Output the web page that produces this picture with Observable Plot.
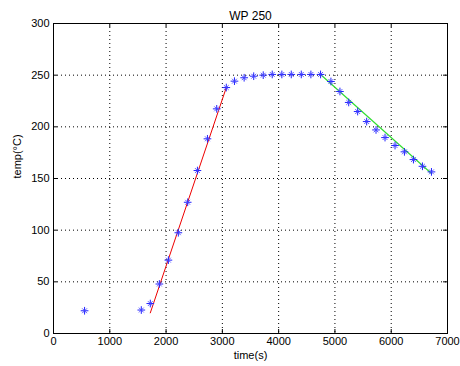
<!DOCTYPE html>
<html>
<head>
<meta charset="utf-8">
<script src="https://cdn.jsdelivr.net/npm/d3@7"></script>
<script src="https://cdn.jsdelivr.net/npm/@observablehq/plot@0.6"></script>
<style>
  html, body { margin: 0; padding: 0; background: #fff; }
  svg { display: block; }
</style>
</head>
<body>
<div id="chart"></div>
<script>
const titleText = "WP 250";
const xLabel = "time(s)";
const yLabel = "temp(°C)";

// measured points (time s, temperature °C)
const timeS = [552, 1560, 1720, 1881, 2041, 2218, 2384, 2557, 2735, 2900, 3070, 3215, 3387, 3557, 3726, 3886, 4057, 4224, 4402, 4573, 4745, 4929, 5089, 5245, 5404, 5564, 5730, 5890, 6068, 6235, 6395, 6555, 6715];
const tempC = [22, 22.7, 29, 47.9, 71, 97.5, 127, 157.7, 188.4, 217.4, 238, 244.2, 247.5, 249, 250, 250.7, 250.7, 250.7, 250.7, 250.7, 250.7, 243.9, 234.2, 223.6, 214.8, 205.1, 197, 189.6, 181.9, 175.8, 168.3, 161.8, 156.4];

// fitted heating line (red) and cooling line (green)
const heatT = [1720, 3070];
const heatY = [20, 238];
const coolT = [4745, 6715];
const coolY = [250.7, 154.8];

const xTicks = [0, 1000, 2000, 3000, 4000, 5000, 6000, 7000];
const yTicks = [0, 50, 100, 150, 200, 250, 300];
const xGrid = [1000, 2000, 3000, 4000, 5000, 6000];
const yGrid = [50, 100, 150, 200, 250];

const points = timeS.map((t, i) => ({t, v: tempC[i]}));
const heat = heatT.map((t, i) => ({t, v: heatY[i]}));
const cool = coolT.map((t, i) => ({t, v: coolY[i]}));

const W = 460, H = 366;
const mL = 53, mR = 13, mT = 23, mB = 33;
const fw = W - mL - mR, fh = H - mT - mB;
const tick = 4;

const chart = Plot.plot({
  width: W,
  height: H,
  marginLeft: mL,
  marginRight: mR,
  marginTop: mT,
  marginBottom: mB,
  style: {fontFamily: "Arial, 'Liberation Sans', sans-serif", fontSize: "11px", background: "#fff", color: "#000"},
  x: {domain: [0, 7000]},
  y: {domain: [0, 300]},
  marks: [
    Plot.gridX(xGrid, {stroke: "#000", strokeOpacity: 1, strokeDasharray: "1,3"}),
    Plot.gridY(yGrid, {stroke: "#000", strokeOpacity: 1, strokeDasharray: "1,3"}),
    // inward ticks on all four sides
    Plot.tickX(xTicks, {x: d => d, insetTop: fh - tick, stroke: "#000"}),
    Plot.tickX(xTicks, {x: d => d, insetBottom: fh - tick, stroke: "#000"}),
    Plot.tickY(yTicks, {y: d => d, insetRight: fw - tick, stroke: "#000"}),
    Plot.tickY(yTicks, {y: d => d, insetLeft: fw - tick, stroke: "#000"}),
    Plot.frame({stroke: "#000"}),
    Plot.axisX(xTicks, {tickSize: 0, tickPadding: 4, fontSize: 11, label: null, tickFormat: d3.format("d")}),
    Plot.axisY(yTicks, {tickSize: 0, tickPadding: 4, fontSize: 11, label: null, tickFormat: d3.format("d")}),
    Plot.line(heat, {x: "t", y: "v", stroke: "#ee0000", strokeWidth: 1}),
    Plot.line(cool, {x: "t", y: "v", stroke: "#33dd33", strokeWidth: 1.2}),
    Plot.dot(points, {x: "t", y: "v", symbol: "plus", r: 2.6, stroke: "#2222ff", strokeWidth: 1}),
    Plot.dot(points, {x: "t", y: "v", symbol: "times", r: 2.3, stroke: "#4444ff", strokeWidth: 0.9}),
    Plot.text([titleText], {frameAnchor: "top", dy: -12, text: d => d, fontSize: 12, fill: "#000"}),
    Plot.text([xLabel], {frameAnchor: "bottom", dy: 25, text: d => d, fontSize: 11, fill: "#000"}),
    Plot.text([yLabel], {frameAnchor: "left", dx: -36, rotate: -90, text: d => d, fontSize: 11, fill: "#000"})
  ]
});
document.getElementById("chart").appendChild(chart);
</script>
</body>
</html>
